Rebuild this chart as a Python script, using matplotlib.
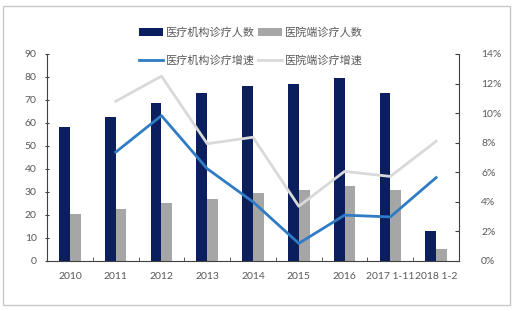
import numpy as np
import matplotlib.pyplot as plt
from matplotlib.patches import Rectangle
from matplotlib.ticker import FuncFormatter

plt.rcParams['font.family'] = ['Lato', 'Noto Sans CJK SC', 'DejaVu Sans']

categories = ['2010', '2011', '2012', '2013', '2014', '2015', '2016', '2017 1-11', '2018 1-2']
jigou_renshu = [58.1, 62.8, 68.7, 73.0, 76.0, 77.0, 79.4, 73.0, 13.1]
yiyuan_renshu = [20.3, 22.5, 25.4, 27.1, 29.6, 30.7, 32.8, 30.7, 5.2]
jigou_zengsu = [np.nan, 7.36, 9.83, 6.24, 4.0, 1.19, 3.1, 2.98, 5.64]
yiyuan_zengsu = [np.nan, 10.8, 12.5, 7.93, 8.37, 3.7, 6.06, 5.72, 8.1]

navy = '#0b1f5e'
gray = '#a6a6a6'
blue = '#2f7bc4'
light = '#d9d9d9'
txt = '#595959'

fig = plt.figure(figsize=(5.2, 3.11), dpi=100)
ax = fig.add_axes([0.0904, 0.1608, 0.7923, 0.6656])
ax2 = ax.twinx()

x = np.arange(len(categories))
w = 0.235
ax.bar(x - w / 2, jigou_renshu, w, color=navy, label='医疗机构诊疗人数', zorder=2)
ax.bar(x + w / 2, yiyuan_renshu, w, color=gray, label='医院端诊疗人数', zorder=2)
ax2.plot(x, jigou_zengsu, color=blue, lw=2, label='医疗机构诊疗增速')
ax2.plot(x, yiyuan_zengsu, color=light, lw=2, label='医院端诊疗增速')

ax.set_xlim(-0.5, len(categories) - 0.5)
ax.set_ylim(0, 90)
ax.set_yticks(range(0, 91, 10))
ax2.set_ylim(0, 14)
ax2.set_yticks(range(0, 15, 2))
ax2.yaxis.set_major_formatter(FuncFormatter(lambda v, p: f'{int(v)}%'))

ax.set_xticks(x)
ax.set_xticklabels(categories)
ax.set_xticks(np.arange(-0.5, len(categories), 1), minor=True)
ax.tick_params(axis='x', which='major', length=0, pad=8, labelsize=7.5, labelcolor=txt)
ax.tick_params(axis='x', which='minor', direction='in', length=3, color='#404040')
ax.tick_params(axis='y', direction='inout', length=3, labelsize=7.5, labelcolor=txt, pad=6,
               color='#404040')
ax2.tick_params(axis='y', direction='in', length=3, labelsize=7.5, labelcolor=txt, pad=16,
                color='#404040')

for a in (ax, ax2):
    a.spines['top'].set_visible(False)
    for s in ('left', 'right', 'bottom'):
        a.spines[s].set_color('#404040')
        a.spines[s].set_linewidth(0.8)
ax.spines['right'].set_visible(False)
ax2.spines['left'].set_visible(False)
ax2.spines['bottom'].set_visible(False)

# 两列图例：第一行为柱，第二行为线
h1, l1 = ax.get_legend_handles_labels()
h2, l2 = ax2.get_legend_handles_labels()
handles = [h1[0], h2[0], h1[1], h2[1]]
labels = [l1[0], l2[0], l1[1], l2[1]]
fig.legend(handles, labels, loc='upper center', bbox_to_anchor=(0.482, 0.945), ncol=2,
           frameon=False, fontsize=8, labelspacing=1.5, columnspacing=0.3,
           handlelength=2.2, handletextpad=0.2, labelcolor=txt)

fig.patches.append(Rectangle((0.006, 0.02), 0.975, 0.962, transform=fig.transFigure,
                             fill=False, edgecolor='#c8c8c8', lw=1))

fig.savefig('out.png', dpi=100)
